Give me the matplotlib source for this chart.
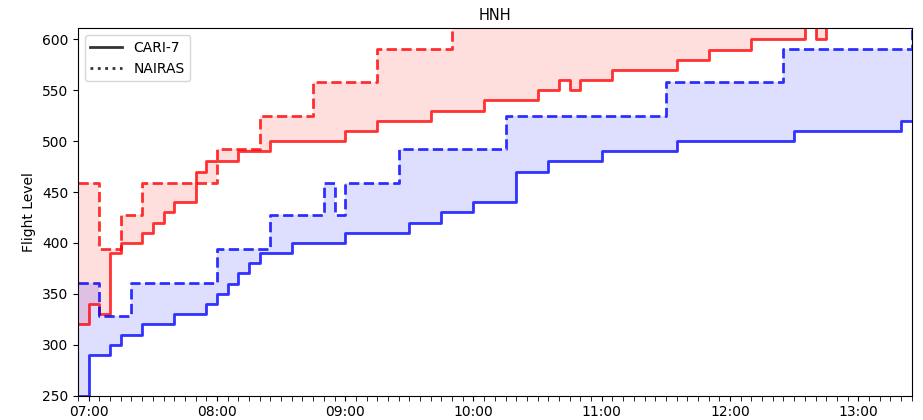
import pandas as pd
import matplotlib
matplotlib.use("Agg")
import matplotlib.pyplot as plt
import matplotlib.dates as mdates
from matplotlib.lines import Line2D

day = "2000-01-01 "

# flight level changes, (time, level) -- each level is held until the next time
red_cari_t = ["06:55", "07:00", "07:05", "07:10", "07:15", "07:25", "07:30", "07:35",
              "07:40", "07:50", "07:55", "08:10", "08:25", "09:00", "09:15", "09:40",
              "10:05", "10:30", "10:40", "10:45", "10:50", "11:05", "11:35", "11:50",
              "12:10", "12:35", "12:40", "12:45"]
red_cari_v = [320, 340, 330, 390, 400, 410, 420, 430, 440, 470, 480, 490, 500, 510,
              520, 530, 540, 550, 560, 550, 560, 570, 580, 590, 600, 620, 600, 620]

red_nairas_t = ["06:55", "07:05", "07:15", "07:25", "08:00", "08:20", "08:45", "09:15", "09:50"]
red_nairas_v = [459, 394, 427, 459, 492, 525, 558, 591, 623]

blue_cari_t = ["06:55", "07:00", "07:10", "07:15", "07:25", "07:40", "07:55", "08:00",
               "08:05", "08:10", "08:15", "08:20", "08:35", "09:00", "09:30", "09:45",
               "10:00", "10:20", "10:35", "11:00", "11:35", "12:30", "13:20"]
blue_cari_v = [250, 290, 300, 310, 320, 330, 340, 350, 360, 370, 380, 390, 400, 410,
               420, 430, 440, 470, 480, 490, 500, 510, 520]

blue_nairas_t = ["06:55", "07:05", "07:20", "08:00", "08:25", "08:50", "08:55", "09:00",
                 "09:25", "10:15", "11:30", "12:25", "13:25"]
blue_nairas_v = [361, 328, 361, 394, 427, 459, 427, 459, 492, 525, 558, 591, 623]

t0, t1 = pd.Timestamp(day + "06:55"), pd.Timestamp(day + "13:25")
grid = pd.date_range(t0, t1, freq="5min")


def hold(times, levels):
    s = pd.Series(levels, index=pd.to_datetime([day + t for t in times]))
    return s.reindex(grid, method="ffill").values


fig, ax = plt.subplots(figsize=(9.23, 4.2), dpi=100)
fig.subplots_adjust(left=0.0845, right=0.9878, bottom=0.058, top=0.933)

for col, ct, cv, nt, nv in [("red", red_cari_t, red_cari_v, red_nairas_t, red_nairas_v),
                            ("blue", blue_cari_t, blue_cari_v, blue_nairas_t, blue_nairas_v)]:
    cari = hold(ct, cv)
    nairas = hold(nt, nv)
    ax.fill_between(grid, cari, nairas, step="post", color=col, alpha=0.13, linewidth=0)
    ax.step(grid, cari, where="post", color=col, alpha=0.8, lw=2)
    ax.step(grid, nairas, where="post", color=col, alpha=0.8, lw=2, ls="--")

ax.set_xlim(t0, t1)
ax.set_ylim(250, 611)
ax.xaxis.set_major_locator(mdates.HourLocator())
ax.xaxis.set_major_formatter(mdates.DateFormatter("%H:%M"))
ax.xaxis.set_minor_locator(mdates.MinuteLocator(byminute=range(0, 60, 5)))
ax.tick_params(which="minor", length=3.5)
ax.set_ylabel("Flight Level")
ax.set_title("HNH", fontsize=10.5)

handles = [Line2D([], [], color="0.2", ls="-", lw=2),
           Line2D([], [], color="0.2", ls=":", lw=2)]
ax.legend(handles, ["CARI-7", "NAIRAS"], loc="upper left", handlelength=2.3)

fig.savefig("out.png")
